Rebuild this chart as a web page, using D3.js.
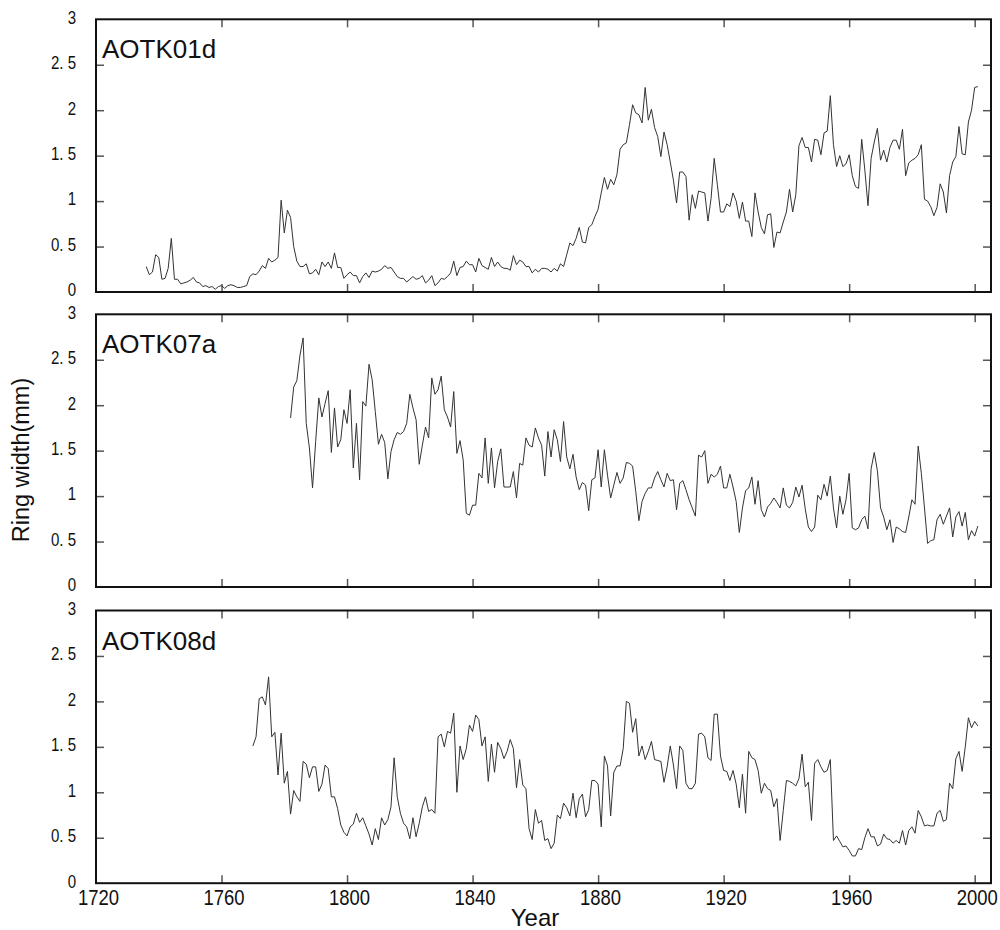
<!doctype html>
<html lang="en">
<head>
  <meta charset="utf-8">
  <title>Ring width</title>
  <style>
  body {
    margin: 0;
    background: #fff;
  }
  .tick text {
    font-family: "Liberation Sans", Arial, sans-serif;
    fill: #111;
  }
  .tick line {
    stroke: #555;
    stroke-width: 1.5px;
  }
  .domain {
    display: none;
  }
  .title {
    font-family: "Liberation Sans", Arial, sans-serif;
    fill: #111;
  }
  </style>
  <script src="https://d3js.org/d3.v7.min.js"></script>
</head>

<body>
  <div id="chart"></div>

  <script>
  // tick values and labels
  var xTicks = [1720, 1760, 1800, 1840, 1880, 1920, 1960, 2000];
  var yTicks = [0, 0.5, 1, 1.5, 2, 2.5, 3];
  var yTickLabels = ["0", "0. 5", "1", "1. 5", "2", "2. 5", "3"];

  // ring widths (mm), one value per year
  var sampleNames = ["AOTK01d", "AOTK07a", "AOTK08d"];
  var startYears = [1736, 1782, 1770];

  var aotk01d = [
    0.28,0.19,0.22,0.41,0.38,0.14,0.15,0.26,0.59,0.14,
    0.14,0.09,0.10,0.11,0.13,0.16,0.11,0.10,0.06,0.07,
    0.05,0.06,0.03,0.06,0.07,0.04,0.07,0.08,0.07,0.05,
    0.05,0.06,0.07,0.17,0.20,0.19,0.23,0.29,0.26,0.37,
    0.33,0.35,0.38,1.01,0.65,0.90,0.82,0.50,0.34,0.28,
    0.28,0.31,0.20,0.21,0.25,0.19,0.33,0.28,0.33,0.26,
    0.43,0.27,0.27,0.15,0.19,0.22,0.18,0.18,0.10,0.17,
    0.21,0.16,0.23,0.22,0.23,0.25,0.29,0.26,0.27,0.22,
    0.17,0.15,
    0.15,0.11,0.14,0.17,0.14,0.15,0.18,0.10,0.13,0.18,
    0.07,0.10,0.15,0.14,0.17,0.21,0.34,0.18,0.27,0.28,
    0.34,0.30,0.30,0.22,0.37,0.29,0.27,0.25,0.38,0.28,
    0.33,0.28,0.26,0.26,0.24,0.40,0.30,0.35,0.33,0.28,
    0.28,0.21,0.25,0.22,0.26,0.26,0.25,0.22,0.26,0.23,
    0.31,0.28,0.41,0.54,0.51,0.59,0.71,0.55,0.54,0.71,
    0.74,0.83,0.91,1.09,1.26,1.13,1.24,1.18,1.29,1.57,
    1.62,1.64,1.84,2.06,1.97,1.95,1.86,2.25,1.89,2.01,
    1.81,1.71,1.49,1.76,1.62,1.43,1.23,0.98,1.32,1.32,
    1.27,0.79,1.07,0.92,1.11,
    1.10,1.09,0.78,1.03,1.47,1.18,0.88,0.88,0.97,0.94,
    1.09,1.00,0.81,0.99,0.78,0.78,0.61,1.09,0.88,0.71,
    0.64,0.85,0.86,0.49,0.66,0.65,0.77,0.88,1.13,0.88,
    1.07,1.61,1.70,1.59,1.59,1.43,1.68,1.67,1.51,1.75,
    1.77,2.16,1.62,1.38,1.50,1.38,1.41,1.51,1.28,1.16,
    1.14,1.68,1.34,0.95,1.47,1.65,1.80,1.45,1.56,1.43,
    1.59,1.67,1.67,1.57,1.79,1.28,1.42,1.45,1.47,1.51,
    1.62,1.02,1.00,0.94,0.84,0.93,1.19,1.10,0.87,1.28,
    1.43,1.49,1.82,1.52,1.51,1.87,2.00,2.25,2.26
  ];

  var aotk07a = [
    1.86,2.20,2.27,2.55,2.74,1.80,1.53,1.09,1.60,2.08,
    1.87,2.02,2.16,1.48,1.97,1.54,1.62,1.95,1.80,2.17,
    1.31,1.80,1.18,2.04,1.99,2.45,2.28,1.93,1.57,1.68,
    1.59,1.19,1.49,1.62,1.70,1.68,
    1.71,1.80,2.12,1.97,1.84,1.35,1.56,1.76,1.64,2.30,
    2.12,2.17,2.32,1.95,1.87,1.76,2.15,1.47,1.61,1.40,
    0.81,0.79,0.90,0.90,1.25,1.20,1.64,1.14,1.53,1.09,
    1.38,1.52,1.10,1.10,1.10,1.27,0.98,1.36,1.34,1.64,
    1.56,1.54,1.75,1.64,1.56,1.22,1.71,1.43,1.73,1.62,
    1.38,1.82,1.43,1.30,1.46,1.21,1.07,1.15,1.12,0.84,
    1.18,1.20,1.51,1.10,1.51,1.23,0.98,1.12,1.26,1.14,
    1.20,1.37,1.36,1.33,1.05,0.73,0.94,1.03,1.09,1.09,
    1.20,1.27,1.18,1.10,1.25,1.17,1.18,0.85,1.14,1.17,
    1.07,0.96,0.87,0.78,1.45,
    1.43,1.50,1.14,1.24,1.21,1.24,1.33,1.09,1.09,1.24,
    1.10,0.94,0.60,0.87,1.06,1.09,1.21,0.91,1.17,0.85,
    0.77,0.88,0.92,0.98,0.93,0.87,1.09,0.90,0.87,0.93,
    1.10,0.99,1.12,0.86,0.66,0.61,0.66,1.01,0.96,1.13,
    1.00,1.22,0.87,0.65,1.00,0.80,0.96,1.25,0.65,0.63,
    0.65,0.74,0.78,0.64,1.30,1.48,1.28,0.87,0.77,0.63,
    0.74,0.49,0.66,0.64,0.61,0.60,0.77,0.96,0.91,1.55,
    1.25,0.87,0.48,0.51,0.52,0.74,0.80,0.69,0.78,0.87,
    0.55,0.77,0.83,0.67,0.82,0.52,0.62,0.56,0.67
  ];

  var aotk08d = [
    1.51,1.61,2.03,2.05,1.96,2.27,1.61,1.66,1.19,1.65,
    1.10,1.23,0.76,1.02,0.95,0.90,1.34,1.31,1.16,1.28,
    1.28,1.01,1.09,1.30,1.26,0.95,0.95,0.82,0.64,0.56,
    0.52,0.62,0.65,0.77,0.67,0.72,0.63,0.54,0.42,0.60,
    0.48,0.72,0.64,0.70,0.84,1.38,0.95,0.77,
    0.66,0.62,0.49,0.72,0.51,0.66,0.84,0.95,0.79,0.81,
    0.77,1.61,1.64,1.50,1.67,1.65,1.87,1.00,1.51,1.36,
    1.48,1.74,1.67,1.85,1.80,1.51,1.61,1.12,1.53,1.22,
    1.55,1.48,1.37,1.45,1.58,1.48,1.05,1.36,1.08,1.04,
    0.60,0.48,0.81,0.66,0.69,0.47,0.49,0.38,0.44,0.75,
    0.71,0.88,0.83,0.74,0.99,0.72,0.93,0.98,0.73,0.81,
    1.13,1.13,1.09,0.62,1.40,1.29,0.74,1.22,1.29,1.29,
    1.48,2.00,1.98,1.66,1.81,1.40,1.51,1.36,1.45,1.56,
    1.36,1.35,1.34,1.11,1.28,1.51,1.30,1.04,1.51,1.46,
    1.10,1.04,1.04,1.10,1.64,
    1.65,1.61,1.38,1.35,1.86,1.86,1.40,1.24,1.23,1.13,
    1.24,1.09,0.83,1.20,0.77,1.45,1.38,1.36,1.24,0.99,
    1.10,1.04,1.02,0.84,0.93,0.47,0.80,1.13,1.12,1.10,
    1.07,1.15,1.42,1.06,1.11,0.69,1.32,1.36,1.28,1.22,
    1.24,1.36,0.47,0.52,0.46,0.40,0.41,0.36,0.30,0.30,
    0.38,0.37,0.50,0.60,0.51,0.51,0.41,0.43,0.54,0.49,
    0.48,0.44,0.47,0.44,0.58,0.42,0.58,0.62,0.55,0.80,
    0.73,0.63,0.64,0.63,0.63,0.77,0.80,0.68,0.70,1.10,
    1.04,1.37,1.45,1.23,1.50,1.82,1.71,1.78,1.73
  ];

  var seriesValues = [aotk01d, aotk07a, aotk08d];

  // layout
  var width = 1000, height = 930;
  var left = 96, right = 991;
  var panelTops = [19.3, 314.3, 610.5];
  var panelH = 272.7;
  var tickLen = 8;
  var yNarrow = 0.86, xNarrow = 0.84;  // squeeze to look like the narrow original font

  var svg = d3.select("#chart").append("svg")
    .attr("width", width)
    .attr("height", height);

  var x = d3.scaleLinear()
    .domain([1720, 2005.2])
    .range([left, right]);

  var y = d3.scaleLinear()
    .domain([0, 3])
    .range([panelH, 0]);

  var line = d3.line()
    .x(function(d) { return x(d.year); })
    .y(function(d) { return y(d.value); });

  sampleNames.forEach(function(name, i) {
    var data = seriesValues[i].map(function(v, j) {
      return {year: startYears[i] + j, value: v};
    });

    var g = svg.append("g")
      .attr("transform", "translate(0," + panelTops[i] + ")");

    // left axis with labels, ticks pointing inward
    var yLeft = g.append("g")
      .attr("transform", "translate(" + left + ",0)")
      .call(d3.axisLeft(y).tickValues(yTicks)
        .tickSize(-tickLen).tickPadding(20)
        .tickFormat(function(d, k) { return yTickLabels[k]; }));
    yLeft.selectAll("text")
      .attr("x", -20 / yNarrow)
      .attr("dy", "0.22em")
      .attr("transform", "scale(" + yNarrow + ",1)")
      .style("font-size", "17.5px");
    yLeft.selectAll("line")
      .filter(function(d) { return d == 0 || d == 3; })
      .remove();

    // right axis, ticks only
    g.append("g")
      .attr("transform", "translate(" + right + ",0)")
      .call(d3.axisRight(y).tickValues(yTicks.slice(1, -1))
        .tickSize(-tickLen).tickFormat(""));

    // top axis, ticks only
    g.append("g")
      .call(d3.axisTop(x).tickValues(xTicks.slice(1))
        .tickSize(-tickLen).tickFormat(""));

    // bottom axis, labels only on last panel
    var xBottom = g.append("g")
      .attr("transform", "translate(0," + panelH + ")")
      .call(d3.axisBottom(x).tickValues(xTicks)
        .tickSize(-tickLen).tickPadding(6)
        .tickFormat(i == 2 ? d3.format("d") : ""));
    xBottom.selectAll("text")
      .attr("dx", 2 / xNarrow)
      .attr("transform", "scale(" + xNarrow + ",1)")
      .style("font-size", "22px");
    xBottom.selectAll("line")
      .filter(function(d) { return d == 1720; })
      .remove();

    // frame
    g.append("rect")
      .attr("x", left)
      .attr("y", 0)
      .attr("width", right - left)
      .attr("height", panelH)
      .attr("fill", "none")
      .attr("stroke", "#111")
      .attr("stroke-width", 2);

    g.append("path")
      .datum(data)
      .attr("d", line)
      .attr("fill", "none")
      .attr("stroke", "#333")
      .attr("stroke-width", 1);

    g.append("text")
      .attr("class", "title")
      .attr("x", 102)
      .attr("y", 39)
      .style("font-size", "26px")
      .text(name);
  });

  // axis titles
  svg.append("text")
    .attr("class", "title")
    .attr("x", 535)
    .attr("y", 926)
    .attr("text-anchor", "middle")
    .style("font-size", "24px")
    .text("Year");

  svg.append("text")
    .attr("class", "title")
    .attr("transform", "translate(29,460) rotate(-90)")
    .attr("text-anchor", "middle")
    .style("font-size", "23.5px")
    .text("Ring width(mm)");
  </script>
</body>
</html>
